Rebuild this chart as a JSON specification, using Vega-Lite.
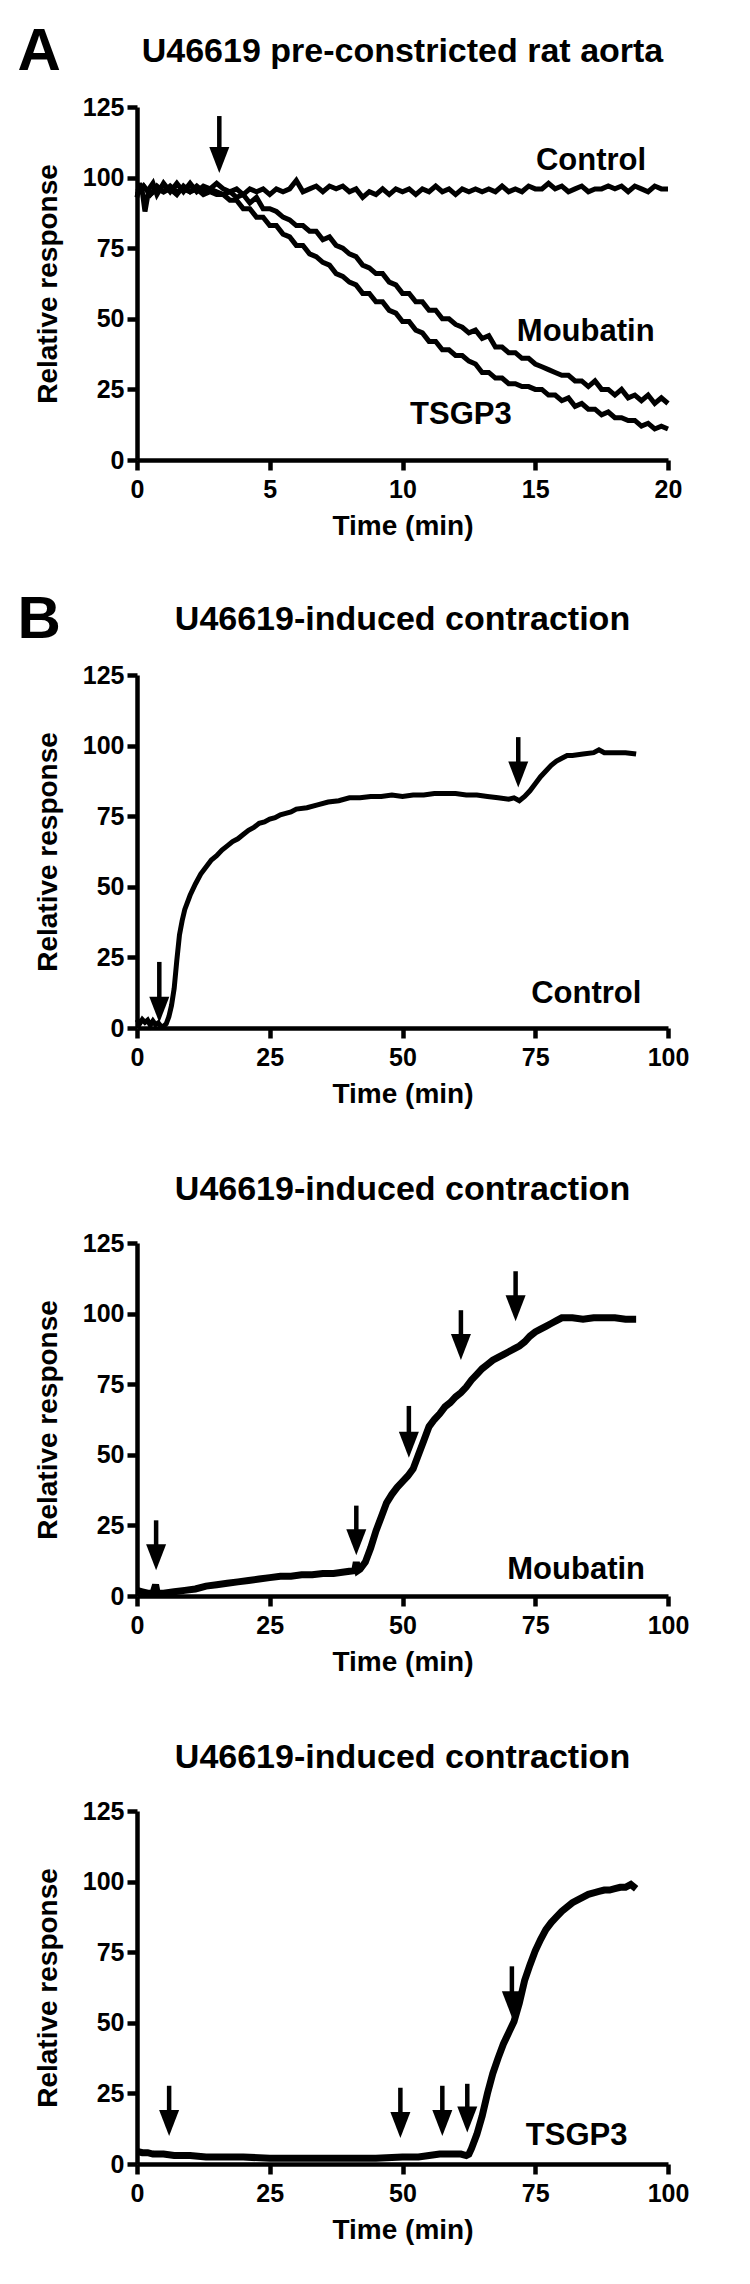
{
 "$schema": "https://vega.github.io/schema/vega-lite/v6.json",
 "background": "white",
 "padding": {"left": 17, "top": 21, "right": 8, "bottom": 8},
 "bounds": "flush",
 "spacing": 215,
 "datasets": {
  "a": [
   {"s":"C","t":0,"r":93},{"s":"C","t":0.1,"r":98},{"s":"C","t":0.2,"r":95},{"s":"C","t":0.3,"r":88},{"s":"C","t":0.45,"r":96},{"s":"C","t":0.6,"r":98},{"s":"C","t":0.75,"r":94},{"s":"C","t":1,"r":98},{"s":"C","t":1.25,"r":95},{"s":"C","t":1.5,"r":98},{"s":"C","t":1.75,"r":95},{"s":"C","t":2,"r":98},{"s":"C","t":2.25,"r":95},{"s":"C","t":2.5,"r":97},{"s":"C","t":2.75,"r":96},{"s":"C","t":3,"r":98},{"s":"C","t":3.25,"r":96},{"s":"C","t":3.5,"r":95},{"s":"C","t":3.75,"r":96},{"s":"C","t":4,"r":94},{"s":"C","t":4.25,"r":96},{"s":"C","t":4.5,"r":95},{"s":"C","t":4.75,"r":96},{"s":"C","t":5,"r":94},{"s":"C","t":5.25,"r":96},{"s":"C","t":5.5,"r":95},{"s":"C","t":5.75,"r":96},{"s":"C","t":6,"r":99},{"s":"C","t":6.25,"r":95},{"s":"C","t":6.5,"r":96},{"s":"C","t":6.75,"r":97},{"s":"C","t":7,"r":95},{"s":"C","t":7.25,"r":97},{"s":"C","t":7.5,"r":96},{"s":"C","t":7.75,"r":97},{"s":"C","t":8,"r":95},{"s":"C","t":8.25,"r":96},{"s":"C","t":8.5,"r":93},{"s":"C","t":8.75,"r":95},{"s":"C","t":9,"r":94},{"s":"C","t":9.25,"r":96},{"s":"C","t":9.5,"r":94},{"s":"C","t":9.75,"r":96},{"s":"C","t":10,"r":95},{"s":"C","t":10.25,"r":96},{"s":"C","t":10.5,"r":94},{"s":"C","t":10.75,"r":96},{"s":"C","t":11,"r":95},{"s":"C","t":11.25,"r":97},{"s":"C","t":11.5,"r":95},{"s":"C","t":11.75,"r":96},{"s":"C","t":12,"r":94},{"s":"C","t":12.25,"r":96},{"s":"C","t":12.5,"r":95},{"s":"C","t":12.75,"r":96},{"s":"C","t":13,"r":95},{"s":"C","t":13.25,"r":96},{"s":"C","t":13.5,"r":95},{"s":"C","t":13.75,"r":97},{"s":"C","t":14,"r":95},{"s":"C","t":14.25,"r":96},{"s":"C","t":14.5,"r":95},{"s":"C","t":14.75,"r":97},{"s":"C","t":15,"r":96},{"s":"C","t":15.25,"r":96},{"s":"C","t":15.5,"r":98},{"s":"C","t":15.75,"r":96},{"s":"C","t":16,"r":97},{"s":"C","t":16.25,"r":95},{"s":"C","t":16.5,"r":96},{"s":"C","t":16.75,"r":97},{"s":"C","t":17,"r":95},{"s":"C","t":17.25,"r":96},{"s":"C","t":17.5,"r":96},{"s":"C","t":17.75,"r":97},{"s":"C","t":18,"r":96},{"s":"C","t":18.25,"r":97},{"s":"C","t":18.5,"r":95},{"s":"C","t":18.75,"r":97},{"s":"C","t":19,"r":96},{"s":"C","t":19.25,"r":95},{"s":"C","t":19.5,"r":97},{"s":"C","t":19.75,"r":96},{"s":"C","t":20,"r":96},
   {"s":"M","t":0,"r":95},{"s":"M","t":0.25,"r":97},{"s":"M","t":0.5,"r":94},{"s":"M","t":0.75,"r":96},{"s":"M","t":1,"r":95},{"s":"M","t":1.25,"r":97},{"s":"M","t":1.5,"r":95},{"s":"M","t":1.75,"r":96},{"s":"M","t":2,"r":95},{"s":"M","t":2.25,"r":97},{"s":"M","t":2.5,"r":95},{"s":"M","t":2.75,"r":96},{"s":"M","t":3,"r":95},{"s":"M","t":3.25,"r":94},{"s":"M","t":3.5,"r":95},{"s":"M","t":3.75,"r":93},{"s":"M","t":4,"r":94},{"s":"M","t":4.25,"r":91},{"s":"M","t":4.5,"r":93},{"s":"M","t":4.75,"r":89},{"s":"M","t":5,"r":89},{"s":"M","t":5.25,"r":88},{"s":"M","t":5.5,"r":86},{"s":"M","t":5.75,"r":85},{"s":"M","t":6,"r":83},{"s":"M","t":6.25,"r":83},{"s":"M","t":6.5,"r":81},{"s":"M","t":6.75,"r":81},{"s":"M","t":7,"r":78},{"s":"M","t":7.25,"r":79},{"s":"M","t":7.5,"r":76},{"s":"M","t":7.75,"r":75},{"s":"M","t":8,"r":73},{"s":"M","t":8.25,"r":72},{"s":"M","t":8.5,"r":69},{"s":"M","t":8.75,"r":68},{"s":"M","t":9,"r":66},{"s":"M","t":9.25,"r":66},{"s":"M","t":9.5,"r":63},{"s":"M","t":9.75,"r":62},{"s":"M","t":10,"r":59},{"s":"M","t":10.25,"r":59},{"s":"M","t":10.5,"r":56},{"s":"M","t":10.75,"r":56},{"s":"M","t":11,"r":53},{"s":"M","t":11.25,"r":53},{"s":"M","t":11.5,"r":50},{"s":"M","t":11.75,"r":50},{"s":"M","t":12,"r":48},{"s":"M","t":12.25,"r":47},{"s":"M","t":12.5,"r":45},{"s":"M","t":12.75,"r":46},{"s":"M","t":13,"r":43},{"s":"M","t":13.25,"r":44},{"s":"M","t":13.5,"r":40},{"s":"M","t":13.75,"r":40},{"s":"M","t":14,"r":38},{"s":"M","t":14.25,"r":38},{"s":"M","t":14.5,"r":36},{"s":"M","t":14.75,"r":36},{"s":"M","t":15,"r":34},{"s":"M","t":15.25,"r":33},{"s":"M","t":15.5,"r":32},{"s":"M","t":15.75,"r":31},{"s":"M","t":16,"r":30},{"s":"M","t":16.25,"r":30},{"s":"M","t":16.5,"r":28},{"s":"M","t":16.75,"r":28},{"s":"M","t":17,"r":26},{"s":"M","t":17.25,"r":28},{"s":"M","t":17.5,"r":25},{"s":"M","t":17.75,"r":25},{"s":"M","t":18,"r":23},{"s":"M","t":18.25,"r":25},{"s":"M","t":18.5,"r":22},{"s":"M","t":18.75,"r":23},{"s":"M","t":19,"r":21},{"s":"M","t":19.25,"r":23},{"s":"M","t":19.5,"r":20},{"s":"M","t":19.75,"r":22},{"s":"M","t":20,"r":20},
   {"s":"T","t":0,"r":94},{"s":"T","t":0.25,"r":97},{"s":"T","t":0.5,"r":94},{"s":"T","t":0.75,"r":97},{"s":"T","t":1,"r":95},{"s":"T","t":1.25,"r":96},{"s":"T","t":1.5,"r":94},{"s":"T","t":1.75,"r":97},{"s":"T","t":2,"r":95},{"s":"T","t":2.25,"r":96},{"s":"T","t":2.5,"r":94},{"s":"T","t":2.75,"r":95},{"s":"T","t":3,"r":94},{"s":"T","t":3.25,"r":94},{"s":"T","t":3.5,"r":92},{"s":"T","t":3.75,"r":92},{"s":"T","t":4,"r":89},{"s":"T","t":4.25,"r":89},{"s":"T","t":4.5,"r":86},{"s":"T","t":4.75,"r":86},{"s":"T","t":5,"r":83},{"s":"T","t":5.25,"r":83},{"s":"T","t":5.5,"r":80},{"s":"T","t":5.75,"r":79},{"s":"T","t":6,"r":76},{"s":"T","t":6.25,"r":76},{"s":"T","t":6.5,"r":73},{"s":"T","t":6.75,"r":72},{"s":"T","t":7,"r":70},{"s":"T","t":7.25,"r":69},{"s":"T","t":7.5,"r":66},{"s":"T","t":7.75,"r":65},{"s":"T","t":8,"r":63},{"s":"T","t":8.25,"r":62},{"s":"T","t":8.5,"r":59},{"s":"T","t":8.75,"r":59},{"s":"T","t":9,"r":56},{"s":"T","t":9.25,"r":56},{"s":"T","t":9.5,"r":53},{"s":"T","t":9.75,"r":52},{"s":"T","t":10,"r":49},{"s":"T","t":10.25,"r":49},{"s":"T","t":10.5,"r":46},{"s":"T","t":10.75,"r":45},{"s":"T","t":11,"r":42},{"s":"T","t":11.25,"r":42},{"s":"T","t":11.5,"r":39},{"s":"T","t":11.75,"r":39},{"s":"T","t":12,"r":37},{"s":"T","t":12.25,"r":37},{"s":"T","t":12.5,"r":35},{"s":"T","t":12.75,"r":34},{"s":"T","t":13,"r":31},{"s":"T","t":13.25,"r":31},{"s":"T","t":13.5,"r":29},{"s":"T","t":13.75,"r":29},{"s":"T","t":14,"r":27},{"s":"T","t":14.25,"r":27},{"s":"T","t":14.5,"r":26},{"s":"T","t":14.75,"r":26},{"s":"T","t":15,"r":25},{"s":"T","t":15.25,"r":25},{"s":"T","t":15.5,"r":23},{"s":"T","t":15.75,"r":23},{"s":"T","t":16,"r":21},{"s":"T","t":16.25,"r":22},{"s":"T","t":16.5,"r":19},{"s":"T","t":16.75,"r":20},{"s":"T","t":17,"r":18},{"s":"T","t":17.25,"r":18},{"s":"T","t":17.5,"r":16},{"s":"T","t":17.75,"r":17},{"s":"T","t":18,"r":15},{"s":"T","t":18.25,"r":15},{"s":"T","t":18.5,"r":14},{"s":"T","t":18.75,"r":14},{"s":"T","t":19,"r":12},{"s":"T","t":19.25,"r":13},{"s":"T","t":19.5,"r":11},{"s":"T","t":19.75,"r":12},{"s":"T","t":20,"r":11}
  ],
  "b1": [
   {"t":0,"r":3},{"t":0.5,"r":1.5},{"t":1,"r":3},{"t":1.5,"r":2},{"t":2,"r":2.8},{"t":2.5,"r":1},{"t":3,"r":2.5},{"t":3.5,"r":1.2},{"t":4,"r":1.8},{"t":4.5,"r":0.6},{"t":5,"r":0.6},{"t":5.5,"r":1.5},{"t":6,"r":4},{"t":6.5,"r":8},{"t":7,"r":14},{"t":7.5,"r":24},{"t":8,"r":33},{"t":8.5,"r":38},{"t":9,"r":42},{"t":10,"r":47},{"t":11,"r":51},{"t":12,"r":54.5},{"t":13,"r":57},{"t":14,"r":59.5},{"t":15,"r":61},{"t":16,"r":63},{"t":17,"r":64.5},{"t":18,"r":66},{"t":19,"r":67},{"t":20,"r":68.5},{"t":21,"r":70},{"t":22,"r":71},{"t":23,"r":72.5},{"t":24,"r":73},{"t":25,"r":74},{"t":26,"r":74.5},{"t":27,"r":75.5},{"t":28,"r":76},{"t":29,"r":76.5},{"t":30,"r":77.5},{"t":32,"r":78},{"t":34,"r":79},{"t":36,"r":80},{"t":38,"r":80.5},{"t":40,"r":81.5},{"t":42,"r":81.5},{"t":44,"r":82},{"t":46,"r":82},{"t":48,"r":82.5},{"t":50,"r":82},{"t":52,"r":82.5},{"t":54,"r":82.5},{"t":56,"r":83},{"t":58,"r":83},{"t":60,"r":83},{"t":62,"r":82.5},{"t":64,"r":82.5},{"t":66,"r":82},{"t":68,"r":81.5},{"t":70,"r":81},{"t":71,"r":81.5},{"t":72,"r":80.5},{"t":73,"r":82},{"t":74,"r":84},{"t":75,"r":86.5},{"t":76,"r":89},{"t":77,"r":91},{"t":78,"r":93},{"t":79,"r":94.5},{"t":80,"r":95.5},{"t":81,"r":96.5},{"t":82,"r":96.5},{"t":84,"r":97},{"t":86,"r":97.5},{"t":87,"r":98.5},{"t":88,"r":97.5},{"t":90,"r":97.5},{"t":92,"r":97.5},{"t":94,"r":97}
  ],
  "b2": [
   {"t":0,"r":2},{"t":1,"r":1.5},{"t":2,"r":1},{"t":3,"r":1},{"t":3.5,"r":4},{"t":3.8,"r":1},{"t":5,"r":1},{"t":7,"r":1.5},{"t":9,"r":2},{"t":11,"r":2.5},{"t":13,"r":3.5},{"t":15,"r":4},{"t":17,"r":4.5},{"t":19,"r":5},{"t":21,"r":5.5},{"t":23,"r":6},{"t":25,"r":6.5},{"t":27,"r":7},{"t":29,"r":7},{"t":31,"r":7.5},{"t":33,"r":7.5},{"t":35,"r":8},{"t":37,"r":8},{"t":39,"r":8.5},{"t":41,"r":9},{"t":41.3,"r":12},{"t":41.6,"r":9},{"t":42,"r":9.5},{"t":43,"r":12},{"t":44,"r":17},{"t":45,"r":23},{"t":46,"r":28},{"t":47,"r":33},{"t":48,"r":36},{"t":49,"r":38.5},{"t":50,"r":40.5},{"t":51,"r":42.5},{"t":52,"r":45},{"t":53,"r":50},{"t":54,"r":55},{"t":55,"r":60},{"t":56,"r":62.5},{"t":57,"r":64.5},{"t":58,"r":67},{"t":59,"r":68.5},{"t":60,"r":70.5},{"t":61,"r":72},{"t":62,"r":74},{"t":63,"r":76.5},{"t":64,"r":78.5},{"t":65,"r":80.5},{"t":66,"r":82},{"t":67,"r":83.5},{"t":68,"r":84.5},{"t":69,"r":85.5},{"t":70,"r":86.5},{"t":71,"r":87.5},{"t":72,"r":88.5},{"t":73,"r":90},{"t":74,"r":92},{"t":75,"r":93.5},{"t":76,"r":94.5},{"t":77,"r":95.5},{"t":78,"r":96.5},{"t":79,"r":97.5},{"t":80,"r":98.5},{"t":82,"r":98.5},{"t":84,"r":98},{"t":86,"r":98.5},{"t":88,"r":98.5},{"t":90,"r":98.5},{"t":92,"r":98},{"t":94,"r":98}
  ],
  "b3": [
   {"t":0,"r":4.5},{"t":1,"r":4},{"t":2,"r":4},{"t":3,"r":3.5},{"t":5,"r":3.5},{"t":7,"r":3},{"t":10,"r":3},{"t":13,"r":2.5},{"t":16,"r":2.5},{"t":20,"r":2.5},{"t":25,"r":2},{"t":30,"r":2},{"t":35,"r":2},{"t":40,"r":2},{"t":45,"r":2},{"t":50,"r":2.5},{"t":53,"r":2.5},{"t":55,"r":3},{"t":57,"r":3.5},{"t":59,"r":3.5},{"t":61,"r":3.5},{"t":62,"r":3},{"t":62.5,"r":3.5},{"t":63,"r":5.5},{"t":64,"r":10.5},{"t":65,"r":17},{"t":66,"r":25},{"t":67,"r":32},{"t":68,"r":37.5},{"t":69,"r":42.5},{"t":70,"r":46.5},{"t":71,"r":50.5},{"t":72,"r":57},{"t":73,"r":65},{"t":74,"r":70.5},{"t":75,"r":75.5},{"t":76,"r":79.5},{"t":77,"r":83},{"t":78,"r":85.5},{"t":79,"r":87.5},{"t":80,"r":89.5},{"t":81,"r":91},{"t":82,"r":92.5},{"t":83,"r":93.5},{"t":84,"r":94.5},{"t":85,"r":95.5},{"t":86,"r":96},{"t":87,"r":96.5},{"t":88,"r":97},{"t":89,"r":97},{"t":90,"r":97.5},{"t":91,"r":98},{"t":92,"r":98},{"t":93,"r":99},{"t":94,"r":97.5}
  ],
  "arrows": [
   {"p":"A","t":3.1,"top":121.8,"head":106.2},
   {"p":"B1","t":4.2,"top":23.4,"head":6.5},
   {"p":"B1","t":71.8,"top":103,"head":89.8},
   {"p":"B2","t":3.6,"top":26.8,"head":13.7},
   {"p":"B2","t":41.3,"top":32,"head":19},
   {"p":"B2","t":51.2,"top":67.3,"head":53.6},
   {"p":"B2","t":61,"top":101.2,"head":88.2},
   {"p":"B2","t":71.3,"top":115,"head":101.9},
   {"p":"B3","t":6.05,"top":27.7,"head":14.5},
   {"p":"B3","t":49.6,"top":27,"head":13.8},
   {"p":"B3","t":57.5,"top":27.7,"head":14.5},
   {"p":"B3","t":62.2,"top":28.4,"head":15.8},
   {"p":"B3","t":70.6,"top":70,"head":56.6}
  ],
  "labels": [
   {"p":"A","t":17.1,"r":106,"label":"Control"},
   {"p":"A","t":16.9,"r":45.5,"label":"Moubatin"},
   {"p":"A","t":12.2,"r":15.8,"label":"TSGP3"},
   {"p":"B1","t":84.6,"r":12,"label":"Control"},
   {"p":"B2","t":82.7,"r":9.1,"label":"Moubatin"},
   {"p":"B3","t":82.8,"r":9.9,"label":"TSGP3"}
  ]
 },
 "vconcat": [
  {
   "width": 531, "height": 353,
   "title": {"text": "U46619 pre-constricted rat aorta", "offset": -48},
   "resolve": {"axis": {"x": "independent"}},
   "layer": [
    {"data": {"name": "a"}, "mark": {"type": "line", "color": "black", "strokeWidth": 5},
     "encoding": {
      "x": {"field": "t", "type": "quantitative", "scale": {"domain": [0, 20], "nice": false, "zero": false}, "axis": {"values": [0, 5, 10, 15, 20], "title": "Time (min)"}},
      "y": {"field": "r", "type": "quantitative", "scale": {"domain": [0, 125], "nice": false}, "axis": {"values": [0, 25, 50, 75, 100, 125], "title": "Relative response"}},
      "detail": {"field": "s", "type": "nominal"}}},
    {"data": {"name": "arrows"}, "transform": [{"filter": "datum.p === 'A'"}], "mark": {"type": "rule", "color": "black", "strokeWidth": 4.5},
     "encoding": {
      "x": {"field": "t", "type": "quantitative", "scale": {"domain": [0, 20], "nice": false, "zero": false}, "axis": {"orient": "top", "title": "A", "labels": false, "ticks": false, "domain": false, "titleFontSize": 60, "titleAnchor": "start", "titleAlign": "left", "titleBaseline": "alphabetic", "titleAngle": 0, "titleX": -120, "titleY": -38}},
      "y": {"field": "top", "type": "quantitative", "scale": {"domain": [0, 125], "nice": false}, "axis": {"values": [0, 25, 50, 75, 100, 125], "title": "Relative response"}},
      "y2": {"field": "head"}}},
    {"data": {"name": "arrows"}, "transform": [{"filter": "datum.p === 'A'"}], "mark": {"type": "point", "shape": "M-0.77,-1L0.77,-1L0,1Z", "size": 676, "filled": true, "color": "black", "opacity": 1, "strokeWidth": 0},
     "encoding": {
      "x": {"field": "t", "type": "quantitative", "scale": {"domain": [0, 20], "nice": false, "zero": false}, "axis": null},
      "y": {"field": "head", "type": "quantitative", "scale": {"domain": [0, 125], "nice": false}, "axis": {"values": [0, 25, 50, 75, 100, 125], "title": "Relative response"}}}},
    {"data": {"name": "labels"}, "transform": [{"filter": "datum.p === 'A'"}], "mark": {"type": "text", "fontSize": 31, "fontWeight": "bold", "color": "black", "font": "Liberation Sans"},
     "encoding": {
      "x": {"field": "t", "type": "quantitative", "scale": {"domain": [0, 20], "nice": false, "zero": false}, "axis": null},
      "y": {"field": "r", "type": "quantitative", "scale": {"domain": [0, 125], "nice": false}, "axis": {"values": [0, 25, 50, 75, 100, 125], "title": "Relative response"}},
      "text": {"field": "label"}}}
   ]
  },
  {
   "width": 531, "height": 353,
   "title": {"text": "U46619-induced contraction", "offset": -48},
   "resolve": {"axis": {"x": "independent"}},
   "layer": [
    {"data": {"name": "b1"}, "mark": {"type": "line", "color": "black", "strokeWidth": 5},
     "encoding": {
      "x": {"field": "t", "type": "quantitative", "scale": {"domain": [0, 100], "nice": false, "zero": false}, "axis": {"values": [0, 25, 50, 75, 100], "title": "Time (min)"}},
      "y": {"field": "r", "type": "quantitative", "scale": {"domain": [0, 125], "nice": false}, "axis": {"values": [0, 25, 50, 75, 100, 125], "title": "Relative response"}}}},
    {"data": {"name": "arrows"}, "transform": [{"filter": "datum.p === 'B1'"}], "mark": {"type": "rule", "color": "black", "strokeWidth": 4.5},
     "encoding": {
      "x": {"field": "t", "type": "quantitative", "scale": {"domain": [0, 100], "nice": false, "zero": false}, "axis": {"orient": "top", "title": "B", "labels": false, "ticks": false, "domain": false, "titleFontSize": 60, "titleAnchor": "start", "titleAlign": "left", "titleBaseline": "alphabetic", "titleAngle": 0, "titleX": -120, "titleY": -38}},
      "y": {"field": "top", "type": "quantitative", "scale": {"domain": [0, 125], "nice": false}, "axis": {"values": [0, 25, 50, 75, 100, 125], "title": "Relative response"}},
      "y2": {"field": "head"}}},
    {"data": {"name": "arrows"}, "transform": [{"filter": "datum.p === 'B1'"}], "mark": {"type": "point", "shape": "M-0.77,-1L0.77,-1L0,1Z", "size": 676, "filled": true, "color": "black", "opacity": 1, "strokeWidth": 0},
     "encoding": {
      "x": {"field": "t", "type": "quantitative", "scale": {"domain": [0, 100], "nice": false, "zero": false}, "axis": null},
      "y": {"field": "head", "type": "quantitative", "scale": {"domain": [0, 125], "nice": false}, "axis": {"values": [0, 25, 50, 75, 100, 125], "title": "Relative response"}}}},
    {"data": {"name": "labels"}, "transform": [{"filter": "datum.p === 'B1'"}], "mark": {"type": "text", "fontSize": 31, "fontWeight": "bold", "color": "black", "font": "Liberation Sans"},
     "encoding": {
      "x": {"field": "t", "type": "quantitative", "scale": {"domain": [0, 100], "nice": false, "zero": false}, "axis": null},
      "y": {"field": "r", "type": "quantitative", "scale": {"domain": [0, 125], "nice": false}, "axis": {"values": [0, 25, 50, 75, 100, 125], "title": "Relative response"}},
      "text": {"field": "label"}}}
   ]
  },
  {
   "width": 531, "height": 353,
   "title": {"text": "U46619-induced contraction", "offset": 24},
   "layer": [
    {"data": {"name": "b2"}, "mark": {"type": "line", "color": "black", "strokeWidth": 7},
     "encoding": {
      "x": {"field": "t", "type": "quantitative", "scale": {"domain": [0, 100], "nice": false, "zero": false}, "axis": {"values": [0, 25, 50, 75, 100], "title": "Time (min)"}},
      "y": {"field": "r", "type": "quantitative", "scale": {"domain": [0, 125], "nice": false}, "axis": {"values": [0, 25, 50, 75, 100, 125], "title": "Relative response"}}}},
    {"data": {"name": "arrows"}, "transform": [{"filter": "datum.p === 'B2'"}], "mark": {"type": "rule", "color": "black", "strokeWidth": 4.5},
     "encoding": {
      "x": {"field": "t", "type": "quantitative", "scale": {"domain": [0, 100], "nice": false, "zero": false}, "axis": {"values": [0, 25, 50, 75, 100], "title": "Time (min)"}},
      "y": {"field": "top", "type": "quantitative", "scale": {"domain": [0, 125], "nice": false}, "axis": {"values": [0, 25, 50, 75, 100, 125], "title": "Relative response"}},
      "y2": {"field": "head"}}},
    {"data": {"name": "arrows"}, "transform": [{"filter": "datum.p === 'B2'"}], "mark": {"type": "point", "shape": "M-0.77,-1L0.77,-1L0,1Z", "size": 676, "filled": true, "color": "black", "opacity": 1, "strokeWidth": 0},
     "encoding": {
      "x": {"field": "t", "type": "quantitative", "scale": {"domain": [0, 100], "nice": false, "zero": false}, "axis": {"values": [0, 25, 50, 75, 100], "title": "Time (min)"}},
      "y": {"field": "head", "type": "quantitative", "scale": {"domain": [0, 125], "nice": false}, "axis": {"values": [0, 25, 50, 75, 100, 125], "title": "Relative response"}}}},
    {"data": {"name": "labels"}, "transform": [{"filter": "datum.p === 'B2'"}], "mark": {"type": "text", "fontSize": 31, "fontWeight": "bold", "color": "black", "font": "Liberation Sans"},
     "encoding": {
      "x": {"field": "t", "type": "quantitative", "scale": {"domain": [0, 100], "nice": false, "zero": false}, "axis": {"values": [0, 25, 50, 75, 100], "title": "Time (min)"}},
      "y": {"field": "r", "type": "quantitative", "scale": {"domain": [0, 125], "nice": false}, "axis": {"values": [0, 25, 50, 75, 100, 125], "title": "Relative response"}},
      "text": {"field": "label"}}}
   ]
  },
  {
   "width": 531, "height": 353,
   "title": {"text": "U46619-induced contraction", "offset": 24},
   "layer": [
    {"data": {"name": "b3"}, "mark": {"type": "line", "color": "black", "strokeWidth": 7},
     "encoding": {
      "x": {"field": "t", "type": "quantitative", "scale": {"domain": [0, 100], "nice": false, "zero": false}, "axis": {"values": [0, 25, 50, 75, 100], "title": "Time (min)"}},
      "y": {"field": "r", "type": "quantitative", "scale": {"domain": [0, 125], "nice": false}, "axis": {"values": [0, 25, 50, 75, 100, 125], "title": "Relative response"}}}},
    {"data": {"name": "arrows"}, "transform": [{"filter": "datum.p === 'B3'"}], "mark": {"type": "rule", "color": "black", "strokeWidth": 4.5},
     "encoding": {
      "x": {"field": "t", "type": "quantitative", "scale": {"domain": [0, 100], "nice": false, "zero": false}, "axis": {"values": [0, 25, 50, 75, 100], "title": "Time (min)"}},
      "y": {"field": "top", "type": "quantitative", "scale": {"domain": [0, 125], "nice": false}, "axis": {"values": [0, 25, 50, 75, 100, 125], "title": "Relative response"}},
      "y2": {"field": "head"}}},
    {"data": {"name": "arrows"}, "transform": [{"filter": "datum.p === 'B3'"}], "mark": {"type": "point", "shape": "M-0.77,-1L0.77,-1L0,1Z", "size": 676, "filled": true, "color": "black", "opacity": 1, "strokeWidth": 0},
     "encoding": {
      "x": {"field": "t", "type": "quantitative", "scale": {"domain": [0, 100], "nice": false, "zero": false}, "axis": {"values": [0, 25, 50, 75, 100], "title": "Time (min)"}},
      "y": {"field": "head", "type": "quantitative", "scale": {"domain": [0, 125], "nice": false}, "axis": {"values": [0, 25, 50, 75, 100, 125], "title": "Relative response"}}}},
    {"data": {"name": "labels"}, "transform": [{"filter": "datum.p === 'B3'"}], "mark": {"type": "text", "fontSize": 31, "fontWeight": "bold", "color": "black", "font": "Liberation Sans"},
     "encoding": {
      "x": {"field": "t", "type": "quantitative", "scale": {"domain": [0, 100], "nice": false, "zero": false}, "axis": {"values": [0, 25, 50, 75, 100], "title": "Time (min)"}},
      "y": {"field": "r", "type": "quantitative", "scale": {"domain": [0, 125], "nice": false}, "axis": {"values": [0, 25, 50, 75, 100, 125], "title": "Relative response"}},
      "text": {"field": "label"}}}
   ]
  }
 ],
 "config": {
  "font": "Liberation Sans",
  "view": {"stroke": null},
  "axis": {"domainColor": "black", "domainWidth": 4.5, "tickColor": "black", "tickWidth": 4.5, "tickSize": 10, "labelFont": "Liberation Sans", "labelFontSize": 25, "labelFontWeight": "bold", "labelColor": "black", "titleFont": "Liberation Sans", "titleFontSize": 28, "titleFontWeight": "bold", "titleColor": "black", "grid": false, "labelFlush": false, "labelOverlap": false},
  "axisX": {"labelPadding": 7, "titlePadding": 10},
  "axisY": {"labelPadding": 3, "titlePadding": 20},
  "title": {"font": "Liberation Sans", "fontSize": 34, "fontWeight": "bold", "color": "black", "offset": 34, "anchor": "middle", "frame": "group"}
 }
}
